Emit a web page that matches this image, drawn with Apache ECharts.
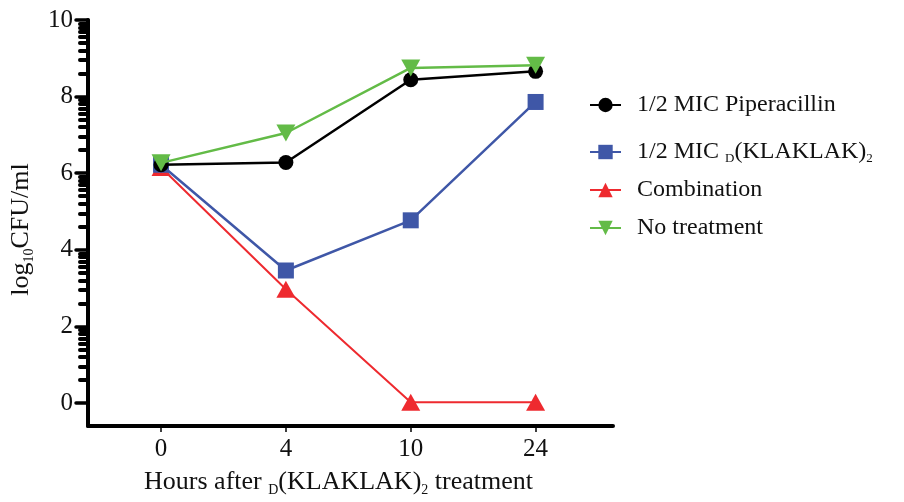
<!DOCTYPE html>
<html><head><meta charset="utf-8">
<script src="https://cdn.jsdelivr.net/npm/echarts@6/dist/echarts.min.js"></script>
<style>html,body{margin:0;padding:0;background:#fff}#c{width:904px;height:502px}</style>
</head><body><div id="c"></div><script>
// ---- data ----
const categories = ['0', '4', '10', '24'];
const xPos = [0, 1, 2, 3];
const piperacillin = [6.22, 6.28, 8.44, 8.66];
const klaklak = [6.22, 3.46, 4.77, 7.86];
const combination = [6.15, 2.97, 0.02, 0.02];
const noTreatment = [6.27, 7.05, 8.75, 8.82];
const yMajorTicks = [0, 2, 4, 6, 8, 10];
const seriesNames = ['1/2 MIC Piperacillin', '1/2 MIC D(KLAKLAK)2', 'Combination', 'No treatment'];

// minor (log-style) tick decoration between major ticks
const minorOffsets = [0.60, 0.95, 1.20, 1.40, 1.56, 1.69, 1.81, 1.91];
const yMinorTicks = [];
for (let b = 0; b < 10; b += 2) minorOffsets.forEach(o => yMinorTicks.push(+(b + o).toFixed(2)));

const FONT = 'Liberation Serif';
const pairs = arr => arr.map((v, i) => [xPos[i], v]);

const chart = echarts.init(document.getElementById('c'), null, {renderer: 'canvas'});
const legendRich = {
  t: {fontFamily: FONT, fontSize: 24, color: '#111'},
  s: {fontFamily: FONT, fontSize: 13, color: '#111', verticalAlign: 'bottom', padding: [13, 0, 0, 0]}
};
function legendFmt(name) {
  if (name === seriesNames[1]) return '{t|1/2 MIC }{s|D}{t|(KLAKLAK)}{s|2}';
  return '{t|' + name + '}';
}
const legendTops = [88, 135, 173, 211];
const legends = seriesNames.map((n, i) => ({
  data: [n], left: 584, top: legendTops[i], orient: 'vertical',
  itemWidth: 31, itemHeight: 18, selectedMode: false,
  formatter: legendFmt,
  textStyle: {fontFamily: FONT, fontSize: 24, color: '#111', padding: [0, 0, 0, 11], rich: legendRich}
}));

chart.setOption({
  animation: false,
  backgroundColor: '#fff',
  grid: {left: 88, right: 291, top: 20, bottom: 75, containLabel: false},
  legend: legends,
  xAxis: {
    type: 'value', min: -0.585, max: 3.62,
    name: '{t|Hours after }{s|D}{t|(KLAKLAK)}{s|2}{t| treatment}',
    nameLocation: 'middle', nameGap: 42,
    nameTextStyle: {padding: [0, 24, 0, 0], rich: {
      t: {fontFamily: FONT, fontSize: 26, color: '#111'},
      s: {fontFamily: FONT, fontSize: 14, color: '#111', verticalAlign: 'bottom', padding: [15, 0, 0, 0]}
    }},
    splitLine: {show: false},
    axisLine: {show: true, onZero: false, lineStyle: {color: '#000', width: 4}},
    axisTick: {show: true, customValues: xPos, length: 6, lineStyle: {color: '#000', width: 1.5}},
    axisLabel: {customValues: xPos, formatter: v => categories[Math.round(v)], fontFamily: FONT, fontSize: 25, color: '#111', margin: 11}
  },
  yAxis: [{
    type: 'value', min: -0.6, max: 10,
    name: '{t|log}{s|10}{t|CFU/ml}',
    nameLocation: 'middle', nameGap: 52, nameRotate: 90,
    nameTextStyle: {padding: [0, 13, 0, 0], rich: {
      t: {fontFamily: FONT, fontSize: 26, color: '#111'},
      s: {fontFamily: FONT, fontSize: 14, color: '#111', verticalAlign: 'bottom', padding: [15, 0, 0, 0]}
    }},
    splitLine: {show: false},
    axisLine: {show: true, onZero: false, lineStyle: {color: '#000', width: 4}},
    axisTick: {show: true, customValues: yMajorTicks, length: 12, lineStyle: {color: '#000', width: 3.5, cap: 'round'}},
    axisLabel: {customValues: yMajorTicks, fontFamily: FONT, fontSize: 25, color: '#111', margin: 15}
  }, {
    type: 'value', min: -0.6, max: 10, position: 'left',
    splitLine: {show: false},
    axisLine: {show: false, onZero: false},
    axisTick: {show: true, customValues: yMinorTicks, length: 8, lineStyle: {color: '#000', width: 4, cap: 'round'}},
    axisLabel: {show: false}
  }],
  series: [
    {name: seriesNames[0], type: 'line', data: pairs(piperacillin), symbol: 'circle', symbolSize: 15,
     itemStyle: {color: '#000'}, lineStyle: {color: '#000', width: 2.5}, z: 4},
    {name: seriesNames[1], type: 'line', data: pairs(klaklak), symbol: 'rect', symbolSize: 16,
     itemStyle: {color: '#3F57A7'}, lineStyle: {color: '#3F57A7', width: 2.5}, z: 3},
    {name: seriesNames[2], type: 'line', data: pairs(combination), symbol: 'triangle', symbolSize: [19, 17],
     itemStyle: {color: '#EE2A2F'}, lineStyle: {color: '#EE2A2F', width: 2}, z: 2},
    {name: seriesNames[3], type: 'line', data: pairs(noTreatment), symbol: 'triangle', symbolRotate: 180, symbolSize: [19, 17],
     itemStyle: {color: '#63BB47'}, lineStyle: {color: '#63BB47', width: 2.5}, z: 5}
  ]
});
</script></body></html>
